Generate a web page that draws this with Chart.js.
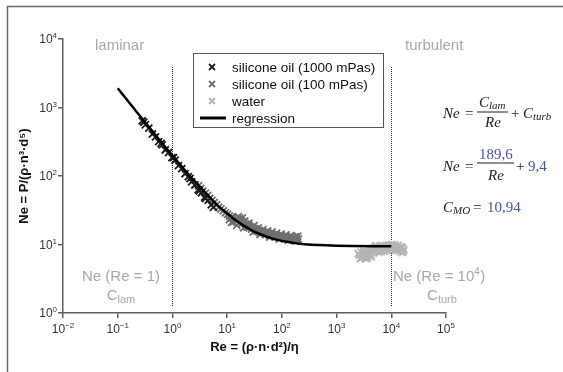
<!DOCTYPE html>
<html>
<head>
<meta charset="utf-8">
<script src="https://cdn.jsdelivr.net/npm/chart.js@4.4.1/dist/chart.umd.min.js"></script>
<style>
  html, body { margin: 0; padding: 0; background: #fff; }
</style>
</head>
<body>
<canvas id="chart" width="563" height="372"></canvas>
<script>
/* ---------- data ---------- */
const xTicks = [0.01, 0.1, 1, 10, 100, 1000, 10000, 100000];
const xTickExp = ['−2', '−1', '0', '1', '2', '3', '4', '5'];
const yTicks = [1, 10, 100, 1000, 10000];
const yTickExp = ['0', '1', '2', '3', '4'];

// silicone oil (1000 mPas)
const oil1000Re = [0.28, 0.30, 0.32, 0.37, 0.43, 0.49, 0.56, 0.62, 0.65, 0.74, 0.85, 0.98, 1.05, 1.12, 1.29, 1.48, 1.70, 1.95, 2.1, 2.24, 2.57, 2.95, 3.1, 3.39, 3.89, 4.0, 4.47, 5.13, 5.6];
const oil1000Ne = [640, 610, 560, 500, 410, 372, 318, 300, 285, 240, 220, 185, 185, 170, 142, 128, 108, 98, 92, 82, 74, 63, 61, 57, 49, 47, 44, 38, 35];

// silicone oil (100 mPas)
const oil100Re = [3.0, 3.3, 3.6, 4.0, 4.4, 4.8, 5.3, 5.8, 6.4, 7.0, 7.7, 8.5, 9.3, 10.2, 11, 12, 13, 14, 15.5, 16, 17, 18.5, 19, 20, 22, 24, 26, 29, 32, 35, 39, 43, 47, 52, 57, 63, 70, 77, 85, 94, 104, 115, 127, 140, 155, 170, 185, 200,
                  12, 15, 20, 30, 40, 60, 90, 130, 180,
                  11, 13, 15, 17, 19, 21, 23, 25, 28, 31, 34, 37, 41, 45, 50, 55, 60, 66, 73, 80, 88, 97, 108, 120, 132, 145, 160, 175, 190, 195];
const oil100Ne = [72, 66, 60, 56, 52, 47, 44, 41, 38, 35, 33, 31, 29, 27.5, 26, 25, 24.5, 23, 22.5, 25.5, 24, 22, 24.5, 21, 20, 19.5, 18.5, 18, 17, 16.8, 16, 15.5, 15, 14.8, 14.5, 14, 13.8, 13.6, 13.3, 13.2, 13, 12.8, 12.6, 12.5, 12.3, 12.2, 12.4, 12.0,
                  21, 19, 17.5, 15.2, 14, 12.8, 12, 11.5, 11.2,
                  23, 21.5, 24, 21, 20.5, 22, 18, 20.5, 16.8, 18.8, 15.8, 17.5, 14.8, 16.5, 14.2, 15.8, 13.5, 15.2, 13.1, 14.6, 12.8, 14.2, 12.4, 13.8, 12.1, 13.5, 11.8, 13.0, 11.6, 13.2];

// water
const waterRe = [2600, 2800, 2900, 3100, 3300, 3500, 3700, 3900, 4200, 4400, 4700, 5000, 5200, 5500, 5900, 6300, 6700, 7100, 7600, 8100, 8600, 9200, 9800, 10500, 11200, 12000, 12800, 13600, 14500, 15500, 16500,
                 2500, 2700, 3000, 3200, 3400, 3600, 3800, 4000, 4300, 4600, 4900, 5300, 5700, 6100, 6500, 6900, 7400, 7900, 8400, 9000, 9500, 10200, 10800, 11600, 12400, 13200, 14000, 15000, 16000, 17000, 16000];
const waterNe = [7.0, 7.8, 6.5, 7.6, 6.8, 7.3, 6.4, 7.8, 7.1, 8.2, 7.5, 9.3, 8.0, 8.6, 7.7, 8.9, 8.3, 9.0, 8.5, 9.2, 8.7, 9.4, 8.9, 9.6, 8.5, 9.3, 8.2, 9.0, 7.9, 8.6, 8.0,
                 7.4, 6.2, 7.0, 8.0, 6.2, 7.9, 7.0, 8.5, 6.6, 8.8, 7.9, 9.6, 8.4, 9.5, 7.9, 9.6, 8.0, 9.7, 8.1, 9.9, 8.3, 10.0, 9.0, 9.9, 8.8, 9.7, 8.4, 9.3, 7.6, 8.4, 9.0];

// regression curve
const regRe = [0.1, 0.15, 0.2, 0.3, 0.5, 0.7, 1, 1.5, 2, 3, 5, 7, 10, 15, 20, 30, 50, 70, 100, 150, 200, 300, 500, 1000, 2000, 5000, 10000];
const regNe = [1905, 1273, 957, 641, 389, 280, 199, 136, 104, 73, 47, 36, 28.4, 22, 18.9, 15.7, 13.2, 12.1, 11.3, 10.7, 10.3, 10.0, 9.8, 9.6, 9.5, 9.44, 9.42];

const seriesNames = ['silicone oil (1000 mPas)', 'silicone oil (100 mPas)', 'water', 'regression'];
const seriesColors = ['#1c1c1c', '#6f6f6f', '#b4b4b4', '#000000'];

const toPoints = (xs, ys) => xs.map((x, i) => ({ x: x, y: ys[i] }));

const GRAY_TXT = '#a8a8a8';
const BLUE = '#4455a8';
const SANS = '"Liberation Sans", Arial, sans-serif';
const SERIF = '"Liberation Serif", "DejaVu Serif", serif';

function drawX(ctx, x, y, r, color, lw) {
    ctx.save();
    ctx.strokeStyle = color;
    ctx.lineWidth = lw;
    ctx.beginPath();
    ctx.moveTo(x - r, y - r); ctx.lineTo(x + r, y + r);
    ctx.moveTo(x + r, y - r); ctx.lineTo(x - r, y + r);
    ctx.stroke();
    ctx.restore();
}

// text with a small subscript, centred on cx
function subText(ctx, main, sub, cx, y, size, color) {
    ctx.save();
    ctx.fillStyle = color;
    ctx.textAlign = 'left';
    ctx.textBaseline = 'alphabetic';
    ctx.font = size + 'px ' + SANS;
    const w1 = ctx.measureText(main).width;
    ctx.font = Math.round(size * 0.72) + 'px ' + SANS;
    const w2 = ctx.measureText(sub).width;
    let x = cx - (w1 + w2) / 2;
    ctx.font = size + 'px ' + SANS;
    ctx.fillText(main, x, y);
    ctx.font = Math.round(size * 0.72) + 'px ' + SANS;
    ctx.fillText(sub, x + w1, y + 3);
    ctx.restore();
}

// "10" with a raised exponent; align = 'center' or 'right'
function powerLabel(ctx, exp, x, y, align) {
    ctx.save();
    ctx.fillStyle = '#333';
    ctx.textBaseline = 'alphabetic';
    ctx.textAlign = 'left';
    ctx.font = '12px ' + SANS;
    const w1 = ctx.measureText('10').width;
    ctx.font = '8px ' + SANS;
    const w2 = ctx.measureText(exp).width;
    const left = align === 'right' ? x - w1 - w2 : x - (w1 + w2) / 2;
    ctx.font = '12px ' + SANS;
    ctx.fillText('10', left, y);
    ctx.font = '8px ' + SANS;
    ctx.fillText(exp, left + w1, y - 5);
    ctx.restore();
}

const decor = {
    id: 'decor',
    beforeDatasetsDraw(chart) {
        const ctx = chart.ctx;
        const xs = chart.scales.x;
        ctx.save();
        // dotted guide lines at Re = 1 and Re = 10^4
        ctx.strokeStyle = '#222';
        ctx.lineWidth = 1;
        ctx.setLineDash([1, 1]);
        [1, 10000].forEach(v => {
            const px = Math.round(xs.getPixelForValue(v)) + 0.5;
            ctx.beginPath();
            ctx.moveTo(px, 67);
            ctx.lineTo(px, 307);
            ctx.stroke();
        });
        ctx.restore();
    },
    afterDraw(chart) {
        const ctx = chart.ctx;
        const xs = chart.scales.x, ys = chart.scales.y;
        ctx.save();

        // tick labels
        xTicks.forEach((v, i) => powerLabel(ctx, xTickExp[i], xs.getPixelForValue(v), 333, 'center'));
        yTicks.forEach((v, i) => powerLabel(ctx, yTickExp[i], 57, ys.getPixelForValue(v) + 4, 'right'));

        // outer frame (top + left)
        ctx.strokeStyle = '#6a6a6a';
        ctx.lineWidth = 1.5;
        ctx.beginPath();
        ctx.moveTo(563, 6.5);
        ctx.lineTo(7.5, 6.5);
        ctx.lineTo(7.5, 372);
        ctx.stroke();

        // region labels
        ctx.fillStyle = GRAY_TXT;
        ctx.font = '15px ' + SANS;
        ctx.textBaseline = 'middle';
        ctx.textAlign = 'left';
        ctx.fillText('laminar', 95, 46);
        ctx.fillText('turbulent', 405, 46);
        ctx.textAlign = 'center';
        ctx.fillText('Ne (Re = 1)', 121, 277);
        ctx.textAlign = 'left';
        ctx.fillText('Ne (Re = 10', 393, 277);
        const wNe = ctx.measureText('Ne (Re = 10').width;
        ctx.font = '10px ' + SANS;
        ctx.fillText('4', 393 + wNe, 272);
        ctx.font = '15px ' + SANS;
        ctx.fillText(')', 393 + wNe + 6, 277);
        subText(ctx, 'C', 'lam', 121, 300, 15, GRAY_TXT);
        subText(ctx, 'C', 'turb', 442, 300, 15, GRAY_TXT);

        // legend
        ctx.fillStyle = '#fff';
        ctx.fillRect(193.5, 53.5, 190, 74);
        ctx.strokeStyle = '#555';
        ctx.lineWidth = 1;
        ctx.strokeRect(193.5, 53.5, 190, 74);
        const rows = [67, 84, 101, 118];
        ctx.font = '13.5px ' + SANS;
        ctx.textAlign = 'left';
        ctx.textBaseline = 'middle';
        seriesNames.forEach((name, i) => {
            if (i < 3) {
                drawX(ctx, 212, rows[i], 3, seriesColors[i], 1.8);
            } else {
                ctx.save();
                ctx.strokeStyle = '#000';
                ctx.lineWidth = 3;
                ctx.beginPath();
                ctx.moveTo(200, rows[i]);
                ctx.lineTo(226, rows[i]);
                ctx.stroke();
                ctx.restore();
            }
            ctx.fillStyle = '#111';
            ctx.fillText(name, 232, rows[i] + 1);
        });

        // equations
        ctx.textBaseline = 'alphabetic';
        ctx.fillStyle = '#222';
        const it = 'italic 15px ' + SERIF;
        const itS = 'italic 11px ' + SERIF;
        const up = '15px ' + SERIF;
        // Ne = C_lam / Re + C_turb
        ctx.font = it; ctx.textAlign = 'left';
        ctx.fillText('Ne', 443, 118);
        ctx.font = up; ctx.fillText('=', 465, 118);
        ctx.font = it; ctx.fillText('C', 479, 107);
        ctx.font = itS; ctx.fillText('lam', 489, 109);
        ctx.fillRect(477, 111.5, 31, 1);
        ctx.font = it; ctx.fillText('Re', 485, 127);
        ctx.font = up; ctx.fillText('+', 511, 118);
        ctx.font = it; ctx.fillText('C', 523, 118);
        ctx.font = itS; ctx.fillText('turb', 533, 120);
        // Ne = 189,6 / Re + 9,4
        ctx.font = it; ctx.fillText('Ne', 443, 171);
        ctx.font = up; ctx.fillText('=', 465, 171);
        ctx.fillStyle = BLUE; ctx.fillText('189,6', 479, 159);
        ctx.fillStyle = '#222'; ctx.fillRect(477, 162.5, 37, 1);
        ctx.font = it; ctx.fillText('Re', 488, 180);
        ctx.font = up; ctx.fillText('+', 516, 171);
        ctx.fillStyle = BLUE; ctx.fillText('9,4', 528, 171);
        // C_MO = 10,94
        ctx.fillStyle = '#222';
        ctx.font = it; ctx.fillText('C', 443, 212);
        ctx.font = itS; ctx.fillText('MO', 453, 214);
        ctx.font = up; ctx.fillText('=', 473, 212);
        ctx.fillStyle = BLUE; ctx.fillText('10,94', 487, 212);

        ctx.restore();
    }
};

const axisCommon = {
    type: 'logarithmic',
    border: { color: '#5e5e5e', width: 1.5 },
    grid: { drawOnChartArea: false, drawTicks: true, tickLength: 5, color: '#5e5e5e', lineWidth: 1.5 },
    ticks: { display: false },
    title: { display: true, color: '#111', font: { family: SANS, size: 13, weight: 'bold' } }
};

const marker = { pointStyle: 'crossRot', pointRadius: 5, pointBorderWidth: 1.8 };

new Chart(document.getElementById('chart'), {
    type: 'scatter',
    data: {
        datasets: [
            { label: seriesNames[0], data: toPoints(oil1000Re, oil1000Ne), ...marker, borderColor: seriesColors[0], backgroundColor: seriesColors[0], order: 1 },
            { label: seriesNames[1], data: toPoints(oil100Re, oil100Ne), ...marker, borderColor: seriesColors[1], backgroundColor: seriesColors[1], order: 2 },
            { label: seriesNames[2], data: toPoints(waterRe, waterNe), ...marker, borderColor: seriesColors[2], backgroundColor: seriesColors[2], order: 3 },
            { label: seriesNames[3], data: toPoints(regRe, regNe), showLine: true, pointRadius: 0, borderColor: seriesColors[3], borderWidth: 2.5, cubicInterpolationMode: 'monotone', order: 0 }
        ]
    },
    options: {
        responsive: false,
        animation: false,
        devicePixelRatio: 1,
        layout: { padding: { left: 0, top: 39, right: 117, bottom: 0 } },
        plugins: { legend: { display: false }, tooltip: { enabled: false } },
        scales: {
            x: {
                ...axisCommon,
                min: 0.01, max: 100000,
                title: { ...axisCommon.title, text: 'Re = (ρ·n·d²)/η', padding: { top: 0, bottom: 17 } },
                afterBuildTicks: (s) => { s.ticks = xTicks.map(v => ({ value: v })); },
                afterFit: (s) => { s.height = 59; }
            },
            y: {
                ...axisCommon,
                min: 1, max: 10000,
                title: { ...axisCommon.title, text: 'Ne = P/(ρ·n³·d⁵)', padding: { top: 17, bottom: 0 } },
                afterBuildTicks: (s) => { s.ticks = yTicks.map(v => ({ value: v })); },
                afterFit: (s) => { s.width = 63; }
            }
        }
    },
    plugins: [decor]
});
</script>
</body>
</html>
